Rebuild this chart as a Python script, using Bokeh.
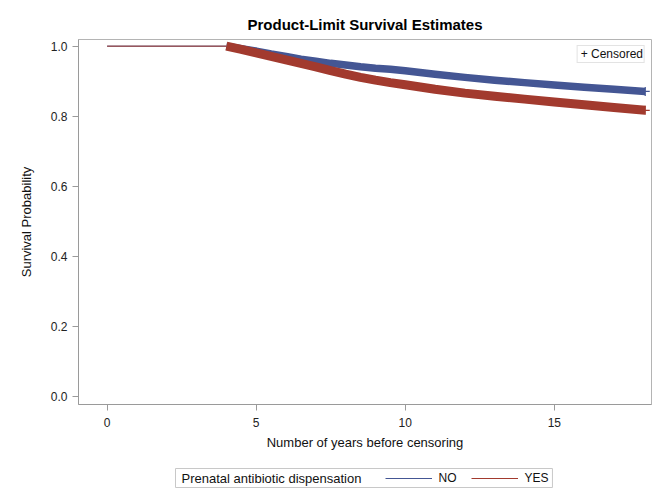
from bokeh.plotting import figure
from bokeh.layouts import column
from bokeh.models import (Range1d, FixedTicker, NumeralTickFormatter, Legend,
                          LegendItem, Label)
from bokeh.embed import file_html
from bokeh.resources import INLINE

# ---- data ----
years = [0.0, 4.0, 4.5, 5.0, 5.5, 6.0, 6.5, 7.0, 7.5, 8.0, 8.5, 9.0, 9.5, 10.0,
         11.0, 12.0, 13.0, 14.0, 15.0, 16.0, 17.0, 18.05]
surv_no = [1.0, 1.0, 0.993, 0.986, 0.978, 0.971, 0.963, 0.957, 0.951, 0.946, 0.941,
           0.937, 0.934, 0.930, 0.920, 0.911, 0.903, 0.896, 0.889, 0.883, 0.877, 0.871]
surv_yes = [1.0, 1.0, 0.991, 0.981, 0.971, 0.961, 0.951, 0.941, 0.930, 0.920, 0.911,
            0.903, 0.896, 0.890, 0.877, 0.866, 0.857, 0.849, 0.841, 0.833, 0.825, 0.817]
censor_start = 4.0          # dense censoring from here on
x_ticks = [0, 5, 10, 15]
y_ticks = [0.0, 0.2, 0.4, 0.6, 0.8, 1.0]
groups = ["NO", "YES"]
group_colors = ["#445694", "#A23A2E"]
band_widths = [7.5, 9]
legend_title = "Prenatal antibiotic dispensation"

FONT = "Liberation Sans"

p = figure(width=652, height=460, output_backend="svg", toolbar_location=None,
           x_range=Range1d(-0.96, 18.26), y_range=Range1d(-0.022, 1.019),
           min_border_left=78, min_border_right=1, min_border_top=39,
           min_border_bottom=56)

p.title.text = "Product-Limit Survival Estimates"
p.title.align = "center"
p.title.text_font = FONT
p.title.text_font_size = "15px"
p.title.text_font_style = "bold"
p.title.text_color = "black"
p.title.standoff = 14

p.grid.visible = False
p.outline_line_color = "#b4b4b4"
p.background_fill_color = "white"
p.border_fill_color = "white"

for ax in (p.xaxis[0], p.yaxis[0]):
    ax.axis_line_color = "#9a9a9a"
    ax.major_tick_line_color = "#9a9a9a"
    ax.major_tick_out = 6
    ax.major_tick_in = 0
    ax.minor_tick_line_color = None
    ax.major_label_text_font = FONT
    ax.major_label_text_font_size = "12px"
    ax.major_label_text_color = "#222222"
    ax.axis_label_text_font = FONT
    ax.axis_label_text_font_size = "13px"
    ax.axis_label_text_font_style = "normal"
    ax.axis_label_text_color = "#111111"

p.xaxis.ticker = FixedTicker(ticks=x_ticks)
p.yaxis.ticker = FixedTicker(ticks=y_ticks)
p.yaxis.formatter = NumeralTickFormatter(format="0.0")
p.xaxis.axis_label = "Number of years before censoring"
p.yaxis.axis_label = "Survival Probability"
p.xaxis.major_label_standoff = 7
p.xaxis.axis_label_standoff = 5
p.yaxis.major_label_standoff = 5
p.yaxis.axis_label_standoff = 14

for name, surv, col, bw in zip(groups, [surv_no, surv_yes], group_colors, band_widths):
    thin_x = [t for t in years if t <= censor_start]
    thin_y = [s for t, s in zip(years, surv) if t <= censor_start]
    thick_x = [t for t in years if t >= censor_start]
    thick_y = [s for t, s in zip(years, surv) if t >= censor_start]
    p.line(thin_x, thin_y, line_color=col, line_width=1)
    p.line(thick_x, thick_y, line_color=col, line_width=bw, line_cap="butt",
           line_join="round")
    p.scatter([years[-1]], [surv[-1]], marker="cross", size=9, line_color=col,
              line_width=1.2)

# "+ Censored" key
cens_r = p.line(x=[], y=[], line_alpha=0)
cens_legend = Legend(items=[LegendItem(label="+ Censored", renderers=[cens_r])],
                     location="top_right", margin=6, padding=1, spacing=0,
                     glyph_width=0, glyph_height=12, label_height=12,
                     label_standoff=2, label_text_font=FONT,
                     label_text_font_size="12px", label_text_color="#111111",
                     border_line_color="#c8c8c8", background_fill_alpha=1)
p.add_layout(cens_legend)

# ---- group legend strip below the chart ----
# (the column aligns this strip's frame with the main frame: x 78..651 px)
p2 = figure(width=652, height=32, output_backend="svg", toolbar_location=None,
            x_range=Range1d(78, 651), y_range=Range1d(32, 0),
            min_border_left=78, min_border_right=1, min_border_top=0,
            min_border_bottom=0, x_axis_type=None, y_axis_type=None)
p2.outline_line_color = None
p2.grid.visible = False
p2.border_fill_color = "white"
p2.background_fill_color = "white"

key_renderers = [p2.line(years, surv, line_color=c, line_width=1)
                 for surv, c in zip([surv_no, surv_yes], group_colors)]

box = Label(x=175, y=17.5, text=legend_title, text_font=FONT,
            text_font_size="13px", text_color="#111111", text_baseline="middle",
            text_align="left", border_line_color="#c8c8c8",
            background_fill_color="white",
            padding=dict(left=6, right=191, top=2, bottom=2))
p2.add_layout(box)

grp_legend = Legend(items=[LegendItem(label=g, renderers=[r])
                           for g, r in zip(groups, key_renderers)],
                    orientation="horizontal", location=(306.5, 7),
                    margin=0, padding=3, spacing=12,
                    glyph_width=47, glyph_height=12, label_height=12,
                    label_standoff=7, label_text_font=FONT,
                    label_text_font_size="12px", label_text_color="#111111",
                    border_line_color=None, background_fill_alpha=0)
p2.add_layout(grp_legend)

open("out.html", "w").write(file_html(column(p, p2), INLINE))
